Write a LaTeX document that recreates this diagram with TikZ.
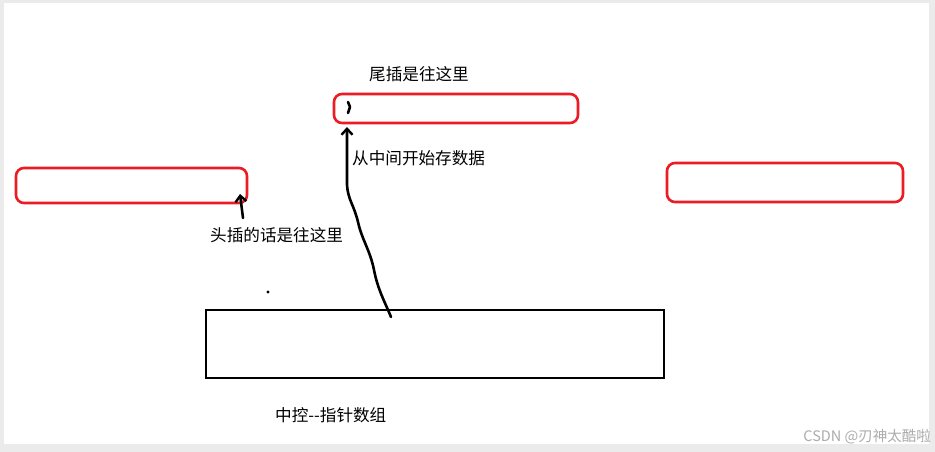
\documentclass[tikz,border=0pt]{standalone}
\usepackage{fontspec}
\setmainfont{Noto Sans CJK SC}
\usetikzlibrary{arrows.meta}
\definecolor{paintred}{HTML}{ED1C24}
\definecolor{framegray}{HTML}{EBEBEB}
\begin{document}
\begin{tikzpicture}[x=1pt,y=-1pt,
  redbox/.style={draw=paintred,line width=2.6pt,rounded corners=8pt,inner sep=0pt},
  label/.style={font=\fontsize{16.6}{19}\selectfont,inner sep=0pt,anchor=west},
  pen/.style={line width=2.6pt,line cap=round,line join=round},
  tip/.style={-{Straight Barb[length=6pt,width=11pt,line width=2.4pt]}}]
\useasboundingbox (0,0) rectangle (935,452);
\fill[framegray] (0,0) rectangle (935,452);
\fill[white] (4,3) rectangle (929,444);
% boxes
\draw[redbox] (334,94) rectangle (578,123);
\draw[redbox] (16,168) rectangle (247,203);
\draw[redbox] (667,163) rectangle (903,202);
\draw[line width=2.4pt] (206,310) rectangle (664,378);
% texts
\node[label] (t1) at (369,74) {尾插是往这里};
\node[label] (t2) at (352,158) {从中间开始存数据};
\node[label] (t3) at (210,235) {头插的话是往这里};
\node[label] (t4) at (275,415) {中控-{}-指针数组};
\node[anchor=east,inner sep=0pt,text=gray!65,font=\fontsize{14.5}{17}\selectfont] (wm) at (931,437) {CSDN @刃神太酷啦};
% dot
\fill (268,292) circle (1.6pt);
% mark in top box
\draw[pen] (348,102) -- (350,107) -- (348,113);
% wiggly arrow
\coordinate (a0) at (391,317);
\coordinate (a1) at (347,127);
\draw[pen,tip] (a0) .. controls (384,300) and (378,290) .. (374,270)
  .. controls (370,250) and (362,240) .. (358,222)
  .. controls (354,205) and (348,200) .. (347,185)
  -- (a1);
% left arrow
\coordinate (b0) at (243,218);
\coordinate (b1) at (240,194);
\draw[pen,tip] (b0) -- (b1);
\end{tikzpicture}
\end{document}
